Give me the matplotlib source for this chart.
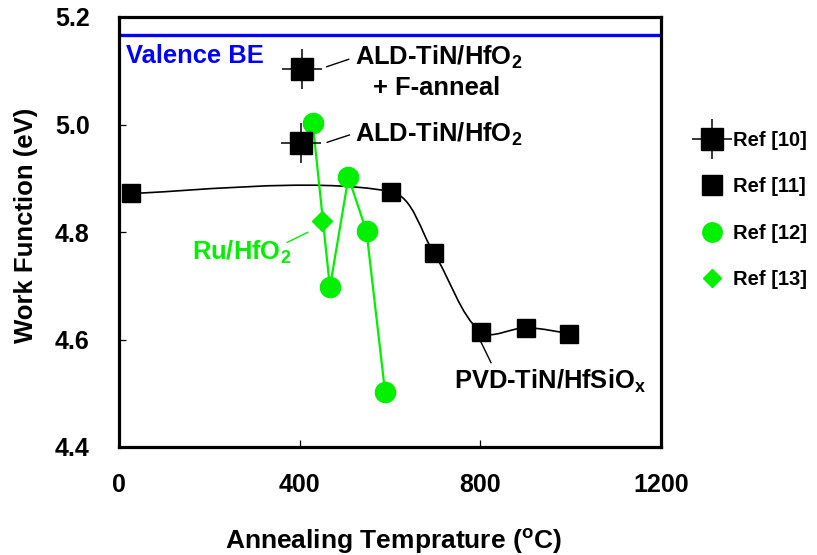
import numpy as np
import matplotlib
matplotlib.use('Agg')
import matplotlib.pyplot as plt
from matplotlib.path import Path
from matplotlib.patches import PathPatch
from matplotlib.lines import Line2D

plt.rcParams['font.family'] = ['Liberation Sans', 'DejaVu Sans']
plt.rcParams['font.weight'] = 'bold'
plt.rcParams['mathtext.fontset'] = 'custom'
plt.rcParams['mathtext.rm'] = 'Liberation Sans:bold'
plt.rcParams['mathtext.it'] = 'Liberation Sans:bold'
plt.rcParams['mathtext.bf'] = 'Liberation Sans:bold'
plt.rcParams['mathtext.default'] = 'rm'

GREEN = '#00f000'
BLUE = '#0000ff'

# Ref [10] ALD-TiN/HfO2 (with error cross)
ref10_x = [405, 403]
ref10_y = [5.103, 4.965]
# Ref [11] PVD-TiN/HfSiOx
ref11_x = [27, 602, 697, 801, 902, 997]
ref11_y = [4.872, 4.875, 4.761, 4.614, 4.622, 4.611]
# Ref [12] Ru/HfO2
ref12_x = [429, 467, 508, 548, 589]
ref12_y = [5.002, 4.697, 4.902, 4.801, 4.503]
# Ref [13]
ref13_x = [449]
ref13_y = [4.82]

valence_be = 5.166

XMIN, XMAX = 0, 1200
YMIN, YMAX = 4.4, 5.2
AX_W, AX_H = 542.0, 430.0   # axes size in pixels


def smooth_path(xs, ys):
    # Excel-like smoothed line: Bezier with chord-scaled tangents, pixel space
    px = (np.array(xs) - XMIN) / (XMAX - XMIN) * AX_W
    py = (np.array(ys) - YMIN) / (YMAX - YMIN) * AX_H
    pts = np.column_stack([px, py])
    n = len(pts)
    d = np.hypot(*np.diff(pts, axis=0).T)
    verts = [pts[0]]
    codes = [Path.MOVETO]
    for i in range(n - 1):
        p0 = pts[max(i - 1, 0)]
        p1 = pts[i]
        p2 = pts[i + 1]
        p3 = pts[min(i + 2, n - 1)]
        da = d[i - 1] if i > 0 else d[i]
        db = d[i + 1] if i < n - 2 else d[i]
        c1 = p1 + (p2 - p0) * d[i] / (da + d[i]) / 3.0
        c2 = p2 - (p3 - p1) * d[i] / (d[i] + db) / 3.0
        verts += [c1, c2, p2]
        codes += [Path.CURVE4] * 3
    verts = np.array(verts) / [AX_W, AX_H]
    return Path(verts, codes)


fig = plt.figure(figsize=(8.17, 5.55), dpi=100)
ax = fig.add_axes([119 / 817, 108 / 555, AX_W / 817, AX_H / 555])

ax.axhline(valence_be, color=BLUE, lw=2.4, zorder=2)

patch = PathPatch(smooth_path(ref11_x, ref11_y), transform=ax.transAxes,
                  fill=False, edgecolor='black', lw=1.2, zorder=3)
ax.add_patch(patch)

ax.errorbar(ref10_x, ref10_y, xerr=44, yerr=0.037, fmt='s', color='black',
            ms=15.5, elinewidth=1.1, capsize=0, zorder=5)
ax.plot(ref11_x, ref11_y, 's', color='black', ms=12.5, zorder=4)
ax.plot(ref12_x, ref12_y, '-', color=GREEN, lw=1.6, zorder=4)
ax.plot(ref12_x, ref12_y, 'o', color=GREEN, ms=14.5, zorder=5)
ax.plot(ref13_x, ref13_y, 'D', color=GREEN, ms=10.5, zorder=6)

ax.set_xlim(XMIN, XMAX)
ax.set_ylim(YMIN, YMAX)
ax.set_xticks([0, 400, 800, 1200])
ax.set_yticks([4.4, 4.6, 4.8, 5.0, 5.2])
ax.set_yticklabels(['4.4', '4.6', '4.8', '5.0', '5.2'])
ax.tick_params(direction='in', length=5, width=0.9, labelsize=18)
ax.tick_params(axis='x', pad=19)
ax.tick_params(axis='y', pad=21)
for sp in ax.spines.values():
    sp.set_linewidth(2.3)

ax.set_xlabel(r'Annealing Temprature ($^{o}$C)', fontsize=19,
              fontweight='bold')
ax.set_ylabel('Work Function (eV)', fontsize=18.5, fontweight='bold')
ax.xaxis.set_label_coords(0.507, -0.186)
ax.yaxis.set_label_coords(-0.15, 0.515)

ax.text(15, 5.127, 'Valence BE', color=BLUE, fontsize=18.4,
        va='center', ha='left')

ax.text(522, 5.1107, r'ALD-TiN/HfO$_2$', fontsize=18.4, va='baseline',
        ha='left')
ax.text(702, 5.055, '+ F-anneal', fontsize=18.4, va='baseline',
        ha='center')
ax.plot([460, 508.5], [5.1075, 5.1213], color='black', lw=1)
ax.text(522.5, 4.968, r'ALD-TiN/HfO$_2$', fontsize=18.4, va='baseline',
        ha='left')
ax.plot([461, 510], [4.9669, 4.9805], color='black', lw=1)
ax.text(161, 4.748, r'Ru/HfO$_2$', fontsize=18.4, color=GREEN,
        va='baseline', ha='left')
ax.plot([372.6, 417.8], [4.7808, 4.7994], color=GREEN, lw=1)
ax.text(741.6, 4.509, r'PVD-TiN/HfSiO$_x$', fontsize=18.4, va='baseline',
        ha='left')
ax.plot([801, 823.6], [4.5959, 4.557], color='black', lw=1)

handles = [
    (Line2D([], [], ls='none', marker='+', ms=29, mew=1.1, color='black'),
     Line2D([], [], ls='none', marker='s', ms=15.5, color='black')),
    Line2D([], [], ls='none', marker='s', ms=14, color='black'),
    Line2D([], [], ls='none', marker='o', ms=14, color=GREEN),
    Line2D([], [], ls='none', marker='D', ms=9.5, color=GREEN),
]
labels = ['Ref [10]', 'Ref [11]', 'Ref [12]', 'Ref [13]']
fig.legend(handles, labels, loc='center left',
           bbox_to_anchor=(702 / 817, 1 - 210 / 555),
           bbox_transform=fig.transFigure, frameon=False, borderpad=0,
           borderaxespad=0, handlelength=1.0, handletextpad=0.55,
           labelspacing=1.35, prop={'weight': 'bold', 'size': 14.5})

fig.savefig('out.png', dpi=100)
